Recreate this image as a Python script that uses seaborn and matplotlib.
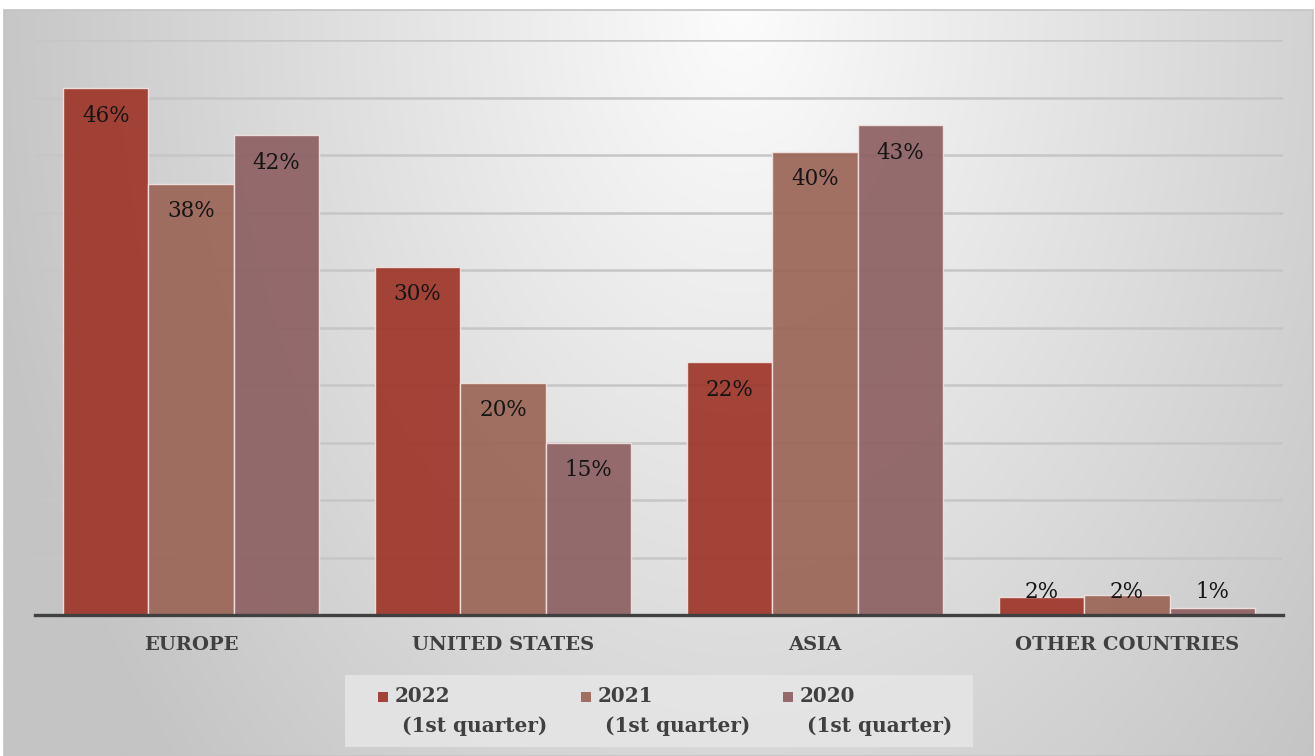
import numpy as np
import pandas as pd
import matplotlib
matplotlib.use("Agg")
import matplotlib.pyplot as plt
from matplotlib.patches import Rectangle
import seaborn as sns

# ---- data ----
regions = ["EUROPE", "UNITED STATES", "ASIA", "OTHER COUNTRIES"]
years = ["2022", "2021", "2020"]
legend_labels = ["2022\n (1st quarter)", "2021\n (1st quarter)", "2020\n (1st quarter)"]
share_2022 = [45.8, 30.3, 22.0, 1.6]
share_2021 = [37.5, 20.2, 40.3, 1.7]
share_2020 = [41.7, 15.0, 42.6, 0.6]
colors = ["#9E3529", "#9B6556", "#8D6062"]

df = pd.DataFrame({
    "region": regions * 3,
    "year": [y for y in years for _ in regions],
    "share": share_2022 + share_2021 + share_2020,
})

sns.set_theme(style="white")
plt.rcParams["font.family"] = ["DejaVu Serif"]

W, H = 1315, 756
fig = plt.figure(figsize=(W / 100, H / 100), dpi=100)
fig.patch.set_facecolor("white")

# ---- background gradient (chart area) ----
bg = fig.add_axes([0, 0, 1, 1], zorder=0)
bg.set_xlim(0, W)
bg.set_ylim(H, 0)
bg.axis("off")
x0, x1, y0, y1 = 4, 1313, 10, 756
xx, yy = np.meshgrid(np.linspace(x0, x1, 400), np.linspace(y0, y1, 240))
d = np.sqrt(((xx - 740) / 720.0) ** 2 + ((yy - 10) / 1050.0) ** 2)
g = np.clip(252 - 52 * d, 196, 255) / 255.0
img = np.dstack([g, g, g])
bg.imshow(img, extent=(x0, x1, y1, y0), aspect="auto", interpolation="bilinear")
bg.add_patch(Rectangle((x0, y0), x1 - x0, y1 - y0, fill=False, edgecolor="#c4c4c4", linewidth=1.2))

# ---- legend box (drawn in background axes) ----
bg.add_patch(Rectangle((345, 675), 628, 72, facecolor="#e6e6e6", edgecolor="none", alpha=0.85))
leg_x = [378, 581, 783]
for lx, col, lab in zip(leg_x, colors, legend_labels):
    bg.add_patch(Rectangle((lx, 692), 10, 10, facecolor=col, edgecolor="none", alpha=0.92))
    bg.text(lx + 17, 686, lab, ha="left", va="top", fontsize=14.4, fontweight="bold",
            color="#404040", linespacing=1.62, family="DejaVu Serif")

# ---- main axes ----
ax = fig.add_axes([35 / W, 141 / H, 1248 / W, 575 / H], zorder=1)
ax.patch.set_alpha(0)
sns.barplot(data=df, x="region", y="share", hue="year", hue_order=years,
            palette=dict(zip(years, colors)), width=0.82, saturation=1, alpha=0.92,
            edgecolor="#f3e4e1", linewidth=1.0, legend=False, ax=ax, zorder=3)
ax.set_xlim(-0.5, 3.5)
ax.set_ylim(0, 50)
ax.set_yticks(np.arange(0, 55, 5))
ax.set_yticklabels([])
ax.yaxis.grid(True, color="#c6c6c6", linewidth=1.8)
ax.set_axisbelow(True)
ax.tick_params(axis="both", length=0)
ax.tick_params(axis="x", pad=15)
for lbl in ax.get_xticklabels():
    lbl.set_fontsize(14)
    lbl.set_fontweight("bold")
    lbl.set_color("#404040")
ax.set_xlabel("")
ax.set_ylabel("")
for s in ["top", "right", "left"]:
    ax.spines[s].set_visible(False)
ax.spines["bottom"].set_color("#404040")
ax.spines["bottom"].set_linewidth(2.4)
ax.spines["bottom"].set_zorder(5)

# ---- data labels ----
for cont in ax.containers:
    for bar in cont:
        v = bar.get_height()
        cx = bar.get_x() + bar.get_width() / 2
        ax.text(cx, max(v - 2.4, 2.0), f"{round(v)}%", ha="center", va="center",
                fontsize=15.5, color="#151515", zorder=6)

fig.savefig("out.png", dpi=100)
